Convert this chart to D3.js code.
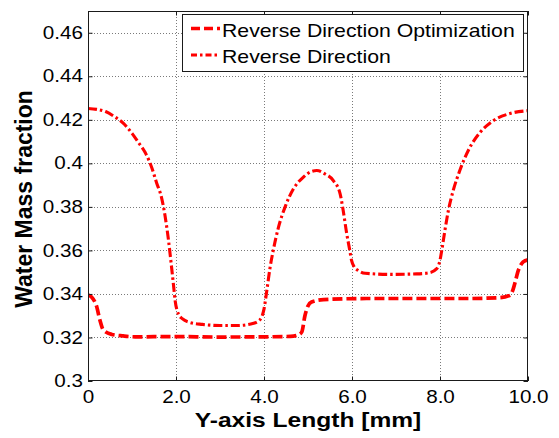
<!DOCTYPE html>
<html>
<head>
<meta charset="utf-8">
<script src="https://cdn.jsdelivr.net/npm/d3@7/dist/d3.min.js"></script>
<style>
  html, body { margin: 0; padding: 0; background: #fff; }
  svg { display: block; }
  text { font-family: Arial, "Liberation Sans", Helvetica, sans-serif; }
</style>
</head>
<body>
<svg id="chart" width="559" height="438"></svg>
<script>
// ---- data ----
const seriesNames = ["Reverse Direction Optimization", "Reverse Direction"];

const optX = [0, 0.08, 0.2, 0.27, 0.35, 0.54, 0.8, 1.07, 2.0, 3.0, 4.0, 4.6, 4.78, 4.86, 4.93, 5.0, 5.08, 5.35, 6.33, 7.5, 8.6, 9.36, 9.59, 9.66, 9.7, 9.78, 9.89, 10.0];
const optY = [0.3395, 0.3386, 0.334, 0.328, 0.3234, 0.3214, 0.3207, 0.3203, 0.3204, 0.3202, 0.3203, 0.3205, 0.3212, 0.3226, 0.330, 0.3345, 0.3363, 0.3374, 0.3379, 0.3379, 0.3379, 0.3383, 0.3394, 0.342, 0.3448, 0.3508, 0.3547, 0.3557];

const revX = [0, 0.2, 0.4, 0.6, 0.8, 1.0, 1.15, 1.3, 1.45, 1.56, 1.67, 1.75, 1.83, 1.89, 1.94, 1.98, 2.05, 2.15, 2.3, 2.6, 3.0, 3.4, 3.7, 3.87, 3.95, 4.0, 4.06, 4.14, 4.21, 4.33, 4.48, 4.67, 4.89, 5.05, 5.2, 5.39, 5.58, 5.73, 5.80, 5.88, 5.95, 5.99, 6.05, 6.14, 6.3, 6.86, 7.47, 7.75, 7.92, 8.0, 8.04, 8.11, 8.19, 8.30, 8.45, 8.64, 8.91, 9.21, 9.59, 10.0];
const revY = [0.4252, 0.4248, 0.4238, 0.4215, 0.4185, 0.4138, 0.4095, 0.405, 0.398, 0.391, 0.3844, 0.376, 0.3646, 0.354, 0.3447, 0.337, 0.331, 0.3285, 0.327, 0.326, 0.3255, 0.3255, 0.3262, 0.3275, 0.3295, 0.333, 0.341, 0.3524, 0.360, 0.3707, 0.380, 0.3883, 0.3936, 0.396, 0.3967, 0.3951, 0.392, 0.386, 0.3783, 0.3677, 0.3600, 0.3554, 0.3524, 0.3508, 0.3495, 0.349, 0.3492, 0.3497, 0.3515, 0.3555, 0.360, 0.369, 0.3783, 0.3875, 0.3967, 0.4058, 0.4142, 0.4196, 0.4229, 0.4242];

const xTicks = [0, 2, 4, 6, 8, 10];
const xTickLabels = ["0", "2.0", "4.0", "6.0", "8.0", "10.0"];
const yTicks = [0.3, 0.32, 0.34, 0.36, 0.38, 0.4, 0.42, 0.44, 0.46];
const yTickLabels = ["0.3", "0.32", "0.34", "0.36", "0.38", "0.4", "0.42", "0.44", "0.46"];

const xTitle = "Y-axis Length [mm]";
const yTitle = "Water Mass fraction";

// ---- layout ----
const L = 88, R = 528, T = 11, B = 381;
const svg = d3.select("#chart");
const x = d3.scaleLinear().domain([0, 10]).range([L, R]);
const y = d3.scaleLinear().domain([0.3, 0.47]).range([B, T]);

const frameColor = "#1a1a1a";
const tickSX = 1.18;

// grid
const grid = svg.append("g").attr("shape-rendering", "crispEdges");
grid.selectAll(".gx").data(xTicks.slice(1, -1)).join("line")
  .attr("x1", d => Math.round(x(d)) + 0.5).attr("x2", d => Math.round(x(d)) + 0.5)
  .attr("y1", T).attr("y2", B)
  .attr("stroke", "#7a7a7a").attr("stroke-width", 1).attr("stroke-dasharray", "1,2");
grid.selectAll(".gy").data(yTicks.slice(1)).join("line")
  .attr("x1", L).attr("x2", R)
  .attr("y1", d => Math.round(y(d)) + 0.5).attr("y2", d => Math.round(y(d)) + 0.5)
  .attr("stroke", "#7a7a7a").attr("stroke-width", 1).attr("stroke-dasharray", "1,2");

// lines
const line = d3.line().x(d => x(d[0])).y(d => y(d[1])).curve(d3.curveMonotoneX);
const optData = optX.map((v, i) => [v, optY[i]]);
const revData = revX.map((v, i) => [v, revY[i]]);

svg.append("clipPath").attr("id", "clip").append("rect")
  .attr("x", L).attr("y", T).attr("width", R - L).attr("height", B - T);

const plotG = svg.append("g").attr("clip-path", "url(#clip)");
plotG.append("path").datum(optData).attr("d", line)
  .attr("fill", "none").attr("stroke", "#ff0000").attr("stroke-width", 3.7)
  .attr("stroke-dasharray", "10,4");
plotG.append("path").datum(revData).attr("d", line)
  .attr("fill", "none").attr("stroke", "#ff0000").attr("stroke-width", 3.1)
  .attr("stroke-dasharray", "9,3,2.5,3");

// axes
function styleAxis(g) {
  g.select(".domain").remove();
  g.selectAll(".tick line").attr("stroke", frameColor).attr("stroke-width", 1);
}
const fontSize = 17.5;
const axLeft = svg.append("g").attr("transform", `translate(${L},0)`)
  .call(d3.axisLeft(y).tickValues(yTicks).tickFormat((d, i) => yTickLabels[i])
    .tickSizeInner(-4.5).tickSizeOuter(0).tickPadding(5));
styleAxis(axLeft);
axLeft.selectAll(".tick text").attr("font-size", fontSize).attr("fill", "#000")
  .attr("font-family", "Arial, 'Liberation Sans', sans-serif")
  .attr("x", -5 / tickSX).attr("transform", `scale(${tickSX},1)`);

const axBottom = svg.append("g").attr("transform", `translate(0,${B})`)
  .call(d3.axisBottom(x).tickValues(xTicks).tickFormat((d, i) => xTickLabels[i])
    .tickSizeInner(-4.5).tickSizeOuter(0).tickPadding(10));
styleAxis(axBottom);
axBottom.selectAll(".tick text").attr("font-size", fontSize).attr("fill", "#000")
  .attr("font-family", "Arial, 'Liberation Sans', sans-serif")
  .attr("transform", `scale(${tickSX},1)`);

const axRight = svg.append("g").attr("transform", `translate(${R},0)`)
  .call(d3.axisRight(y).tickValues(yTicks).tickFormat("").tickSizeInner(-4.5).tickSizeOuter(0));
styleAxis(axRight);
const axTop = svg.append("g").attr("transform", `translate(0,${T})`)
  .call(d3.axisTop(x).tickValues(xTicks).tickFormat("").tickSizeInner(-4.5).tickSizeOuter(0));
styleAxis(axTop);

// frame
svg.append("rect").attr("x", L + 0.5).attr("y", T + 0.5).attr("width", R - L - 1).attr("height", B - T - 1)
  .attr("fill", "none").attr("stroke", frameColor).attr("stroke-width", 1)
  .attr("shape-rendering", "crispEdges");

// titles
svg.append("text")
  .attr("transform", `translate(${(L + R) / 2},426.5) scale(1.17,1)`)
  .attr("text-anchor", "middle").attr("font-size", 21).attr("font-weight", "bold")
  .text(xTitle);
svg.append("text")
  .attr("transform", `translate(31.5,${(T + B) / 2 + 3}) rotate(-90)`)
  .attr("text-anchor", "middle").attr("font-size", 23).attr("font-weight", "bold")
  .text(yTitle);

// legend
const lg = svg.append("g");
lg.append("rect").attr("x", 182.5).attr("y", 14.5).attr("width", 341).attr("height", 57)
  .attr("fill", "#fff").attr("stroke", frameColor).attr("stroke-width", 1)
  .attr("shape-rendering", "crispEdges");
const legendDash = ["9,4", "6,3,2.5,3"];
const legendW = [3.6, 3.1];
const legendRowY = [28.5, 55];
seriesNames.forEach((name, i) => {
  lg.append("line").attr("x1", 191).attr("x2", 220)
    .attr("y1", legendRowY[i]).attr("y2", legendRowY[i])
    .attr("stroke", "#ff0000").attr("stroke-width", legendW[i])
    .attr("stroke-dasharray", legendDash[i]);
  lg.append("text")
    .attr("transform", `translate(222,${legendRowY[i] + 8.3}) scale(1.2,1)`)
    .attr("font-size", 17.7).attr("fill", "#000")
    .text(name);
});
</script>
</body>
</html>
